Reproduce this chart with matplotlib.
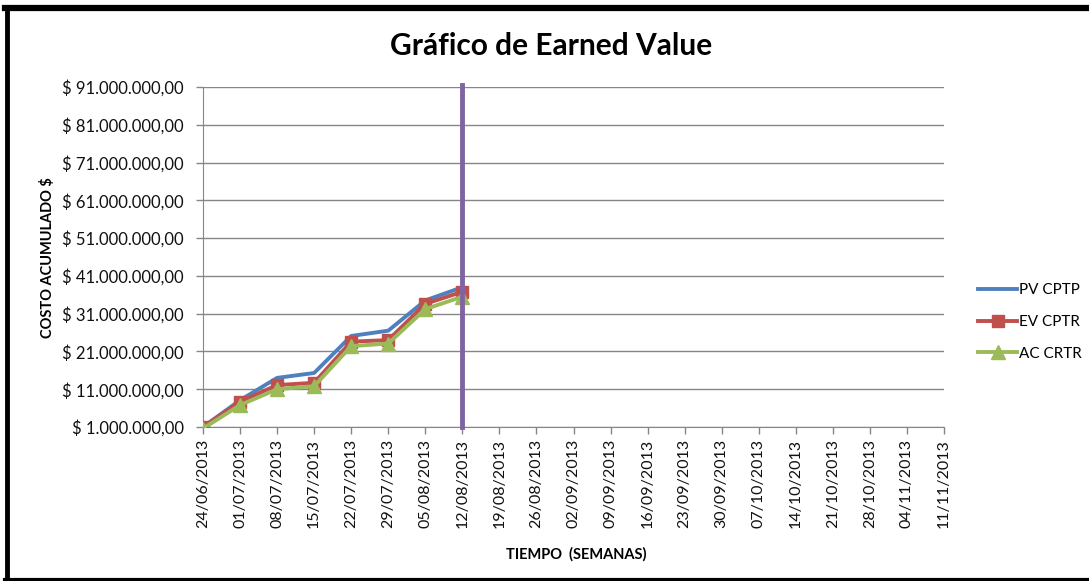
import matplotlib.pyplot as plt
from matplotlib.lines import Line2D
from matplotlib.ticker import FuncFormatter

fechas = ["24/06/2013", "01/07/2013", "08/07/2013", "15/07/2013", "22/07/2013",
          "29/07/2013", "05/08/2013", "12/08/2013", "19/08/2013", "26/08/2013",
          "02/09/2013", "09/09/2013", "16/09/2013", "23/09/2013", "30/09/2013",
          "07/10/2013", "14/10/2013", "21/10/2013", "28/10/2013", "04/11/2013",
          "11/11/2013"]

# costo acumulado por semana (solo hasta la fecha de corte)
pv = [1.0e6, 8.1e6, 14.0e6, 15.3e6, 25.1e6, 26.5e6, 34.5e6, 38.0e6]
ev = [1.0e6, 7.7e6, 12.1e6, 12.7e6, 23.6e6, 24.0e6, 33.6e6, 36.8e6]
ac = [0.6e6, 6.8e6, 11.0e6, 11.8e6, 22.4e6, 23.1e6, 32.2e6, 35.5e6]
corte = "12/08/2013"
y_ticks = [1e6 + 10e6 * i for i in range(10)]

plt.rcParams['font.family'] = ['Lato', 'DejaVu Sans']

fig = plt.figure(figsize=(10.89, 5.81), dpi=100)
ax = fig.add_axes([203 / 1089, 1 - 427 / 581, 741 / 1089, 340 / 581])

x = list(range(len(fechas)))
ax.plot(x[:len(pv)], pv, color="#4F81BD", lw=2.8, label="PV CPTP", zorder=3)
ax.plot(x[:len(ev)], ev, color="#C0504D", lw=2.8, marker="s", ms=8.5,
        label="EV CPTR", zorder=4)
ax.plot(x[:len(ac)], ac, color="#9BBB59", lw=2.8, marker="^", ms=9.5,
        label="AC CRTR", zorder=5)
ax.axvline(fechas.index(corte), ymin=0, ymax=1.005, color="#8064A2", lw=3.5,
           zorder=6, clip_on=False)

ax.set_xlim(0, len(fechas) - 1)
ax.set_ylim(y_ticks[0], y_ticks[-1])
ax.set_yticks(y_ticks)
ax.yaxis.set_major_formatter(FuncFormatter(
    lambda v, p: "$ " + f"{v:,.2f}".replace(",", "X").replace(".", ",").replace("X", ".")))
ax.set_xticks(x)
ax.set_xticklabels(fechas, rotation=90)
ax.tick_params(axis="both", labelsize=11.5, colors="#868686", labelcolor="#111111",
               length=5, width=1)
ax.tick_params(axis="y", labelsize=12, pad=9)
ax.grid(axis="y", color="#868686", lw=1)
ax.set_axisbelow(True)
for s in ["top", "right"]:
    ax.spines[s].set_visible(False)
for s in ["left", "bottom"]:
    ax.spines[s].set_color("#868686")

fig.text(551 / 1089, 1 - 46 / 581, "Gráfico de Earned Value", fontsize=21.5,
         fontweight="bold", ha="center", va="center")
ax.set_ylabel("COSTO ACUMULADO $", fontsize=10.5, fontweight="bold")
ax.yaxis.set_label_coords(55 / 1089, 1 - 258 / 581, transform=fig.transFigure)
ax.set_xlabel("TIEMPO  (SEMANAS)", fontsize=10.5, fontweight="bold")
ax.xaxis.set_label_coords(576 / 1089, 1 - 547 / 581, transform=fig.transFigure)

ax.legend(loc="center left", bbox_to_anchor=(1.028, 0.309), frameon=False,
          fontsize=11, handlelength=2.5, labelspacing=1.15, handletextpad=0.15)

# marco negro
fig.add_artist(Line2D([5 / 1089, 1], [1 - 8 / 581, 1 - 8 / 581], color="black", lw=4.5))
fig.add_artist(Line2D([7 / 1089, 7 / 1089], [0, 1 - 8 / 581], color="black", lw=3.5))
fig.add_artist(Line2D([5 / 1089, 1], [1.5 / 581, 1.5 / 581], color="black", lw=3))

fig.savefig("out.png", dpi=100)
